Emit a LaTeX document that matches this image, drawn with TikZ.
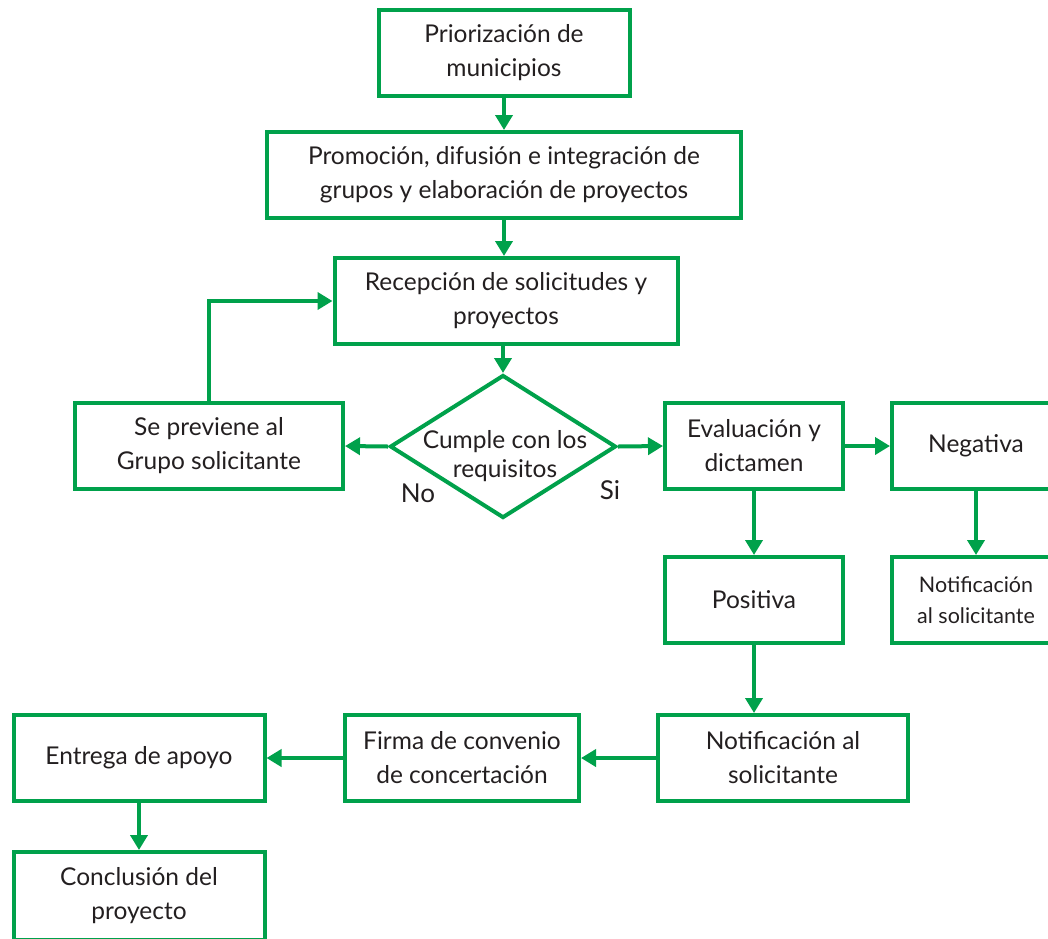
\documentclass[tikz,border=0pt]{standalone}
\usepackage{fontspec}
\setmainfont{Lato}
\usetikzlibrary{shapes.geometric,arrows.meta}
\definecolor{gr}{HTML}{00A14B}
\definecolor{tx}{HTML}{231F20}
\tikzset{
  box/.style={draw=gr, line width=4pt, rectangle, align=center, text=tx,
    font=\fontsize{24.5}{34}\selectfont, inner sep=0pt},
  arr/.style={draw=gr, line width=4pt, -{Triangle[length=15pt,width=17pt]}},
  lbl/.style={text=tx, font=\fontsize{24.5}{29}\selectfont, inner sep=0pt}
}
\begin{document}
\begin{tikzpicture}[x=1pt,y=-1pt]
\useasboundingbox (0,0) rectangle (1048,938);
\clip (0,0) rectangle (1048,938);
\node[box, minimum width=251pt, minimum height=86pt] (pri) at (504,53) {Priorización de\\municipios};
\node[box, minimum width=474pt, minimum height=86pt] (pro) at (504,175) {Promoción, difusión e integración de\\grupos y elaboración de proyectos};
\node[box, minimum width=343pt, minimum height=86pt] (rec) at (506,301) {Recepción de solicitudes y\\proyectos};
\node[draw=gr, line width=4pt, diamond, minimum width=226pt, minimum height=143pt, inner sep=0pt] (dec) at (503,446.5) {};
\node[lbl, align=center] (dect) at (505,456) {Cumple con los\\requisitos};
\node[box, minimum width=268pt, minimum height=86pt] (sp) at (209,446) {Se previene al\\Grupo solicitante};
\node[box, minimum width=178pt, minimum height=86pt] (ev) at (754,446) {Evaluación y\\dictamen};
\node[box, minimum width=168pt, minimum height=86pt] (neg) at (976,446) {Negativa};
\node[box, minimum width=178pt, minimum height=86pt] (pos) at (754,600) {Positiva};
\node[box, minimum width=168pt, minimum height=86pt, font=\fontsize{21.5}{31}\selectfont] (nneg) at (976,600) {Notificación\\al solicitante};
\node[box, minimum width=250pt, minimum height=86pt] (npos) at (783,758) {Notificación al\\solicitante};
\node[box, minimum width=234pt, minimum height=86pt] (fir) at (462,758) {Firma de convenio\\de concertación};
\node[box, minimum width=251pt, minimum height=86pt] (ent) at (139,758) {Entrega de apoyo};
\node[box, minimum width=251pt, minimum height=88pt] (con) at (139,896) {Conclusión del\\proyecto};
\node[lbl, font=\fontsize{26}{30}\selectfont] (no) at (418,493) {No};
\node[lbl, font=\fontsize{26}{30}\selectfont] (si) at (610,490) {Si};
\draw[arr] (pri.south) -- (pri.south |- pro.north);
\draw[arr] (pro.south) -- (pro.south |- rec.north);
\draw[arr] (dec.north |- rec.south) -- (dec.north);
\draw[arr] (dec.west) -- (sp.east);
\draw[arr] (dec.east) -- (ev.west);
\draw[arr] (sp.north) |- (rec.west);
\draw[arr] (ev.east) -- (neg.west);
\draw[arr] (ev.south) -- (pos.north);
\draw[arr] (neg.south) -- (nneg.north);
\draw[arr] (pos.south) -- (pos.south |- npos.north);
\draw[arr] (npos.west) -- (fir.east);
\draw[arr] (fir.west) -- (ent.east);
\draw[arr] (ent.south) -- (con.north);
\end{tikzpicture}
\end{document}
